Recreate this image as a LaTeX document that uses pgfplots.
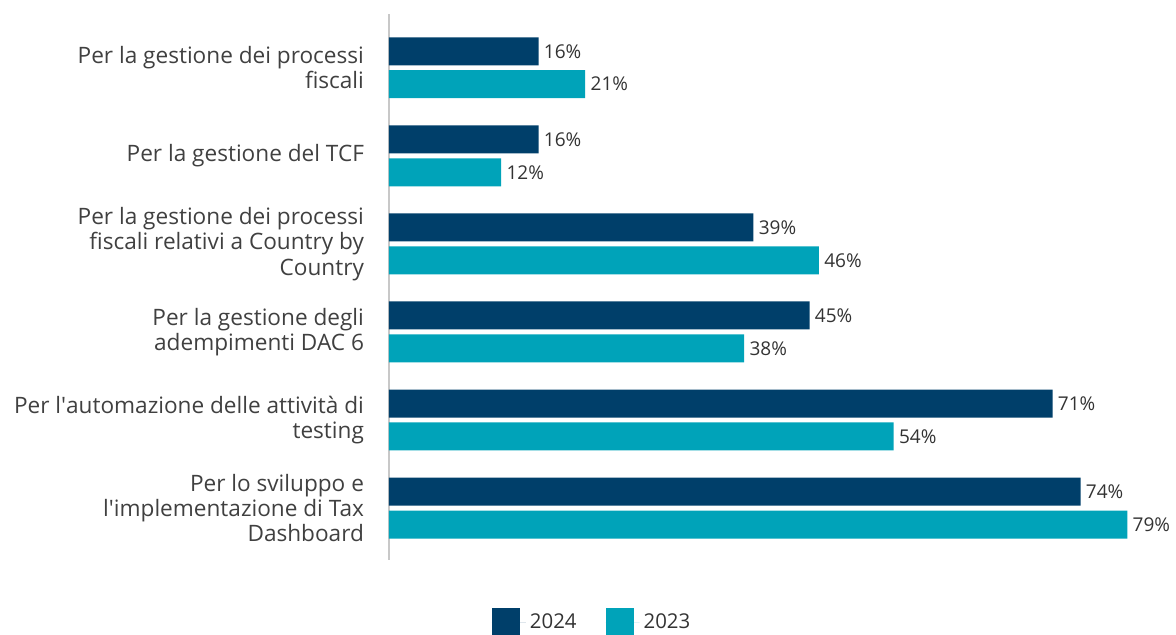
\documentclass[border=0pt]{standalone}
\usepackage{pgfplots}
\pgfplotsset{compat=1.18}
\usepackage{fontspec}
\setmainfont{Open Sans}
\definecolor{navy}{HTML}{003F6A}
\definecolor{teal}{HTML}{00A3B9}
\definecolor{labelgray}{HTML}{404040}
\definecolor{valgray}{HTML}{333333}
\definecolor{axisgray}{HTML}{C8C8C8}

\begin{document}
\begin{tikzpicture}
\begin{axis}[
    at={(0,0)}, anchor=south west,
    scale only axis,
    width=392.5pt, height=273pt,
    xmin=0, xmax=84,
    ymin=-0.59, ymax=5.61,
    xbar, bar width=14pt, bar shift=0pt,
    axis x line=none,
    axis y line*=left,
    y axis line style={axisgray, line width=1pt},
    major tick length=0pt,
    ytick={0,1,2,3,4,5},
    yticklabels={
        {Per lo sviluppo e\\l\textquotesingle implementazione di Tax\\Dashboard},
        {Per l\textquotesingle automazione delle attività di\\testing},
        {Per la gestione degli\\adempimenti DAC 6},
        {Per la gestione dei processi\\fiscali relativi a Country by\\Country},
        {Per la gestione del TCF},
        {Per la gestione dei processi\\fiscali}
    },
    yticklabel style={align=right, font=\fontsize{11.3}{12.7}\selectfont,
        text=labelgray, xshift=-9pt},
    /pgf/number format/assume math mode=true,
    nodes near coords={\pgfmathprintnumber{\pgfplotspointmeta}\%},
    nodes near coords style={anchor=west, inner sep=0pt, xshift=2.5pt,
        font=\fontsize{9.5}{11}\selectfont, text=valgray},
    point meta=x,
    legend style={at={(0.26,-0.114)}, anchor=center, draw=none,
        legend columns=2, font=\fontsize{10.2}{12}\selectfont, text=valgray,
        /tikz/every even column/.append style={column sep=12.5pt}},
    legend image code/.code={\fill[#1] (0pt,-7pt) rectangle (14pt,7pt);
        \path (0pt,0pt) -- (17pt,0pt);},
]
\addplot[fill=navy, draw=none] coordinates {
    (16,5.187) (16,4.187) (39,3.187) (45,2.187) (71,1.187) (74,0.187)
};
\addplot[fill=teal, draw=none] coordinates {
    (21,4.813) (12,3.813) (46,2.813) (38,1.813) (54,0.813) (79,-0.187)
};
\legend{2024,2023}
\end{axis}
\pgfresetboundingbox
\path[use as bounding box] (-194.5pt,-37.5pt) rectangle (393.5pt,280pt);
\end{tikzpicture}
\end{document}
